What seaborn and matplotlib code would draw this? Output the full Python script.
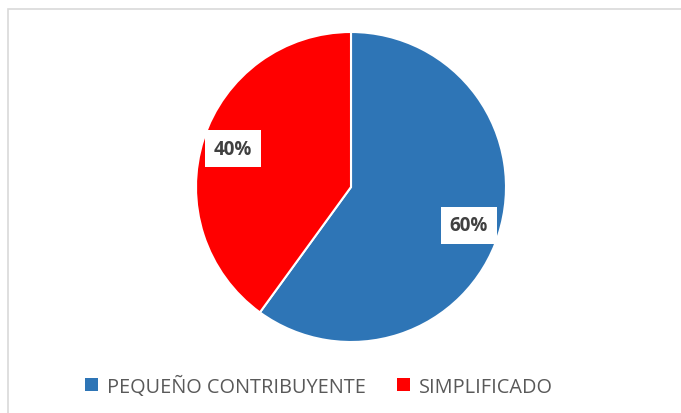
import matplotlib
matplotlib.use("Agg")
import matplotlib.pyplot as plt
import seaborn as sns
from matplotlib.patches import Rectangle, Patch


categories = ["PEQUEÑO CONTRIBUYENTE", "SIMPLIFICADO"]
shares = [60, 40]
slice_colors = ["#2E75B6", "#FF0000"]

sns.set_theme(style="white")
plt.rcParams["font.family"] = ["Open Sans", "DejaVu Sans"]

W, H = 681, 414
fig = plt.figure(figsize=(W / 100, H / 100), dpi=100)

# light chart-area border (only top and left visible in the crop)
fig.patches.append(Rectangle((8 / W, -0.1), 1.2, 1 - 10 / H + 0.1,
                             transform=fig.transFigure, fill=False,
                             edgecolor="#D9D9D9", linewidth=1.2))

cx, cy, r = 351, 188, 155
ax = fig.add_axes([(cx - r) / W, (H - cy - r) / H, 2 * r / W, 2 * r / H])
wedges, texts, autotexts = ax.pie(
    shares,
    colors=slice_colors,
    startangle=90,
    counterclock=False,
    autopct="%d%%",
    pctdistance=0.8,
    wedgeprops=dict(edgecolor="white", linewidth=1.5),
)
ax.set_xlim(-1, 1)
ax.set_ylim(-1, 1)
ax.set_aspect("equal")
ax.axis("off")

for t in autotexts:
    t.set_fontsize(13.5)
    t.set_fontweight("bold")
    t.set_color("#404040")
    t.set_bbox(dict(boxstyle="square,pad=0.45", facecolor="white", edgecolor="none"))

handles = [Patch(facecolor=c, edgecolor="none") for c in slice_colors]
fig.legend(handles, categories, loc="center", ncol=2,
           bbox_to_anchor=(319 / W, 1 - 387 / H), frameon=False,
           fontsize=14.3, labelcolor="#595959",
           handlelength=0.65, handleheight=0.65, handletextpad=0.45,
           columnspacing=1.6)

fig.savefig("out.png", dpi=100)
